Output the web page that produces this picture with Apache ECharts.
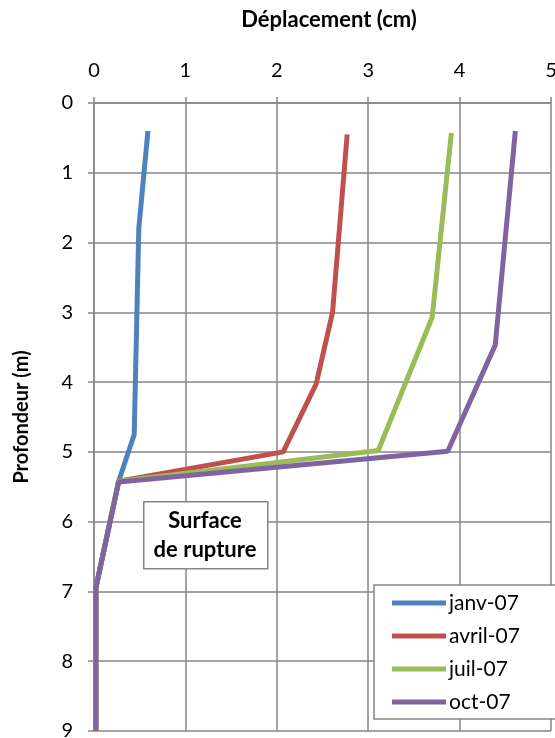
<!DOCTYPE html>
<html>
<head>
<meta charset="utf-8">
<script src="https://cdn.jsdelivr.net/npm/echarts@6/dist/echarts.min.js"></script>
<style>
  html, body { margin: 0; padding: 0; background: #fff; }
  #chart { width: 555px; height: 738px; }
</style>
</head>
<body>
<div id="chart"></div>
<script>
// each series: [déplacement (cm), profondeur (m)]
const janv07 = [[0.59, 0.4], [0.49, 1.8], [0.44, 4.75], [0.27, 5.42], [0.02, 6.95], [0.02, 9]];
const avril07 = [[2.77, 0.45], [2.61, 3.0], [2.43, 4.03], [2.07, 5.0], [0.27, 5.42], [0.02, 6.95], [0.02, 9]];
const juil07 = [[3.91, 0.43], [3.70, 3.07], [3.11, 4.98], [0.27, 5.42], [0.02, 6.95], [0.02, 9]];
const oct07 = [[4.61, 0.4], [4.39, 3.47], [3.87, 4.99], [0.27, 5.43], [0.02, 6.95], [0.02, 9]];

const seriesNames = ["janv-07", "avril-07", "juil-07", "oct-07"];
const seriesData = [janv07, avril07, juil07, oct07];
const colors = ["#4F81BD", "#C0504D", "#9BBB59", "#8064A2"];

const font = "Lato, 'Open Sans', sans-serif";
const gridColor = "#868686";

let myChart = echarts.init(document.getElementById("chart"));

const option = {
  animation: false,
  color: colors,
  textStyle: { fontFamily: font },
  grid: { left: 94, right: 4, top: 103, bottom: 7, outerBoundsMode: "none", containLabel: false },
  title: {
    text: "Déplacement (cm)",
    left: 324,
    top: 4,
    textAlign: "center",
    textStyle: { fontFamily: font, fontSize: 22, fontWeight: "bold", color: "#000" }
  },
  legend: {
    orient: "vertical",
    left: 374,
    top: 585,
    width: 167,
    padding: [6, 40, 5, 18],
    itemGap: 9,
    itemWidth: 54,
    itemHeight: 5,
    icon: "rect",
    backgroundColor: "#fff",
    borderColor: gridColor,
    borderWidth: 1.5,
    data: seriesNames,
    textStyle: { fontFamily: font, fontSize: 21, color: "#000", lineHeight: 24, padding: [0, 0, 0, -2] }
  },
  xAxis: {
    type: "value",
    position: "top",
    min: 0,
    max: 5,
    interval: 1,
    axisLine: { show: true, lineStyle: { color: gridColor, width: 1.5 } },
    axisTick: { show: true, length: 6, lineStyle: { color: gridColor, width: 1.5 } },
    axisLabel: { fontFamily: font, fontSize: 20, color: "#000", margin: 22 },
    splitLine: { show: true, lineStyle: { color: gridColor, width: 1.5 } }
  },
  yAxis: {
    type: "value",
    inverse: true,
    min: 0,
    max: 9,
    interval: 1,
    name: "Profondeur (m)",
    nameLocation: "middle",
    nameGap: 62,
    nameRotate: 90,
    nameTextStyle: { fontFamily: font, fontSize: 20, fontWeight: "bold", color: "#000" },
    axisLine: { show: true, lineStyle: { color: gridColor, width: 1.5 } },
    axisTick: { show: true, length: 6, lineStyle: { color: gridColor, width: 1.5 } },
    axisLabel: { fontFamily: font, fontSize: 20, color: "#000", margin: 21 },
    splitLine: { show: true, lineStyle: { color: gridColor, width: 1.5 } }
  },
  series: seriesNames.map((name, i) => ({
    name: name,
    type: "line",
    data: seriesData[i],
    symbol: "none",
    z: 2 + i,
    lineStyle: { width: 5, color: colors[i] },
    itemStyle: { color: colors[i] }
  })),
  graphic: [
    {
      type: "rect",
      left: 143,
      top: 501,
      z: 10,
      shape: { width: 124, height: 67 },
      style: { fill: "#fff", stroke: gridColor, lineWidth: 1.5 }
    },
    {
      type: "text",
      x: 205,
      y: 535,
      z: 11,
      style: {
        text: "Surface\nde rupture",
        fontFamily: font,
        fontSize: 22,
        fontWeight: "bold",
        lineHeight: 29,
        fill: "#000",
        align: "center",
        verticalAlign: "middle"
      }
    }
  ]
};

myChart.setOption(option);
</script>
</body>
</html>
